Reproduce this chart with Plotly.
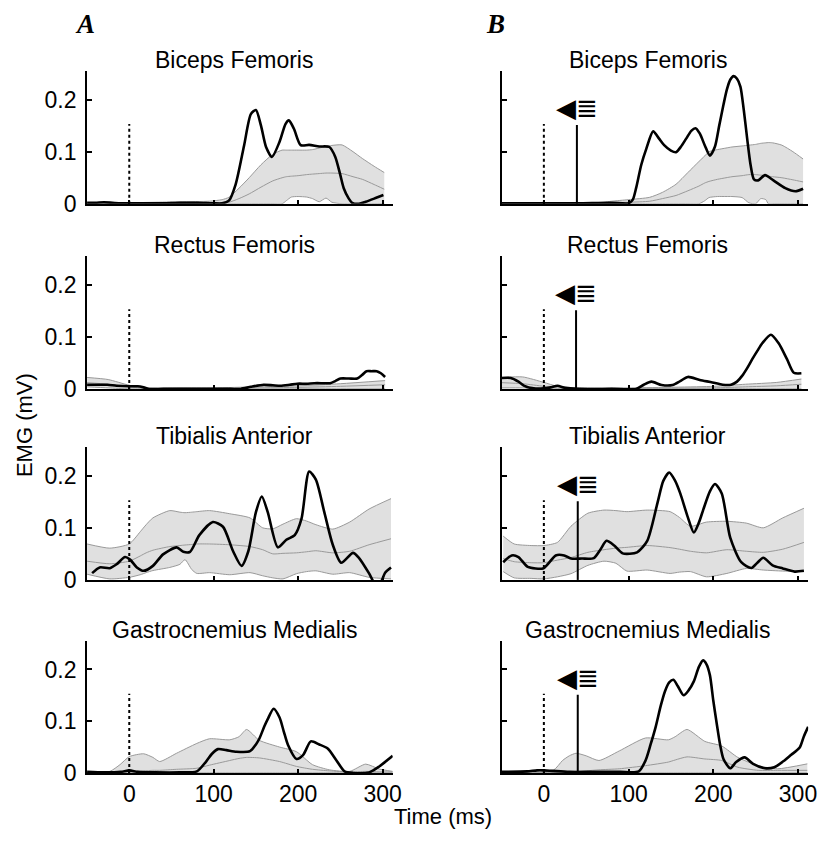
import plotly.graph_objects as go

# ---------------- DATA ----------------
muscles = ["Biceps Femoris", "Rectus Femoris", "Tibialis Anterior", "Gastrocnemius Medialis"]
x_ticks = [0, 100, 200, 300]
y_ticks = [0, 0.1, 0.2]
y_tick_text = ["0", "0.1", "0.2"]
stim_time = 0
stim_height = 0.153
response_times = [39, 38, 40, 40]   # column B solid marker times (ms)
response_height = 0.151
arrow_height = 0.184

# Column A, Biceps Femoris
A_BF_t = [-50, -40, -30, -20, -10, 0, 20, 40, 60, 80, 100, 110, 118, 126, 136, 144, 150, 156, 162, 169, 178, 185, 189, 195, 203, 213, 225, 237, 244, 250, 254, 260, 264, 272, 280, 290, 301]
A_BF_emg = [0.002, 0.002, 0.003, 0.002, 0.001, 0.001, 0.001, 0.001, 0.002, 0.002, 0.001, 0.001, 0.006, 0.0375, 0.112, 0.172, 0.18, 0.15, 0.109, 0.09, 0.119, 0.153, 0.16, 0.144, 0.1125, 0.113, 0.11, 0.109, 0.09, 0.055, 0.03, 0.01, 0.002, 0.0, 0.004, 0.01, 0.017]
A_BF_band_t = [-50, 0, 60, 95, 110, 118, 130, 142, 156, 170, 181, 186, 192, 200, 210, 217, 225, 233, 240, 252, 265, 276, 290, 302]
A_BF_upper = [0.001, 0.002, 0.004, 0.005, 0.008, 0.0125, 0.03, 0.05, 0.075, 0.095, 0.103, 0.103, 0.103, 0.103, 0.103, 0.104, 0.107, 0.11, 0.112, 0.113, 0.1, 0.087, 0.072, 0.06]
A_BF_mean = [0.0, 0.001, 0.001, 0.002, 0.002, 0.003, 0.01, 0.019, 0.032, 0.044, 0.05, 0.052, 0.053, 0.054, 0.056, 0.057, 0.058, 0.059, 0.059, 0.058, 0.052, 0.047, 0.037, 0.028]
A_BF_lower = [0, 0, 0, 0, 0, 0, 0, 0, 0, 0, 0, 0.006, 0.013, 0.014, 0.013, 0.01, 0.004, 0.011, 0.003, 0, 0, 0, 0, 0]

# Column B, Biceps Femoris
B_BF_t = [-50, 0, 40, 80, 100, 105, 109, 115, 121, 129, 136, 142, 150, 156, 162, 168, 174, 179, 184, 190, 196, 202, 207, 212, 216, 220, 224, 228, 232, 236, 240, 244, 248, 253, 261, 271, 285, 297, 306]
B_BF_emg = [0.001, 0.001, 0.001, 0.002, 0.001, 0.008, 0.031, 0.075, 0.106, 0.139, 0.125, 0.1125, 0.102, 0.099, 0.11, 0.125, 0.14, 0.145, 0.135, 0.112, 0.0925, 0.11, 0.15, 0.19, 0.219, 0.238, 0.245, 0.24, 0.225, 0.18, 0.125, 0.075, 0.047, 0.045, 0.055, 0.045, 0.03, 0.024, 0.029]
B_BF_band_t = [-50, 0, 40, 70, 80, 100, 125, 140, 156, 170, 183, 190, 195, 205, 215, 222, 234, 242, 250, 256, 262, 265, 270, 281, 294, 306]
B_BF_upper = [0.001, 0.002, 0.002, 0.003, 0.005, 0.008, 0.0125, 0.022, 0.0375, 0.06, 0.081, 0.092, 0.1, 0.104, 0.107, 0.109, 0.111, 0.1125, 0.114, 0.116, 0.117, 0.1175, 0.117, 0.1125, 0.1, 0.086]
B_BF_mean = [0, 0.001, 0.001, 0.002, 0.002, 0.003, 0.005, 0.01, 0.016, 0.025, 0.034, 0.04, 0.043, 0.047, 0.05, 0.052, 0.054, 0.056, 0.056, 0.055, 0.054, 0.053, 0.052, 0.05, 0.046, 0.042]
B_BF_lower = [0, 0, 0, 0, 0, 0, 0, 0, 0, 0, 0, 0.006, 0.012, 0.014, 0.014, 0.014, 0.012, 0.002, 0, 0.01, 0.008, 0, 0, 0, 0, 0]

# Column A, Rectus Femoris
A_RF_t = [-50, -40, -26, -15, 0, 10, 17, 24, 40, 80, 120, 132, 144, 159, 170, 179, 190, 199, 210, 219, 230, 238, 244, 250, 260, 270, 276, 281, 287, 293, 298, 303]
A_RF_emg = [0.008, 0.008, 0.008, 0.006, 0.005, 0.005, 0.003, 0.0, 0.0, 0.0, 0.0, 0.0, 0.004, 0.008, 0.007, 0.006, 0.008, 0.01, 0.01, 0.011, 0.011, 0.011, 0.015, 0.02, 0.02, 0.02, 0.027, 0.034, 0.034, 0.034, 0.03, 0.023]
A_RF_band_t = [-50, -25, 0, 20, 60, 100, 150, 200, 250, 303]
A_RF_upper = [0.022, 0.018, 0.007, 0.002, 0.002, 0.002, 0.004, 0.006, 0.01, 0.016]
A_RF_mean = [0.012, 0.009, 0.004, 0.001, 0.001, 0.001, 0.002, 0.003, 0.005, 0.008]
A_RF_lower = [0.004, 0.002, 0, 0, 0, 0, 0, 0, 0, 0]

# Column B, Rectus Femoris
B_RF_t = [-50, -39, -30, -23, -12, 0, 8, 16, 25, 40, 80, 109, 118, 127, 139, 152, 161, 170, 184, 199, 211, 221, 228, 234, 240, 246, 252, 258, 268, 277, 287, 295, 304]
B_RF_emg = [0.021, 0.021, 0.014, 0.006, 0.001, 0.001, 0.003, 0.006, 0.002, 0.0, 0.0, 0.0, 0.008, 0.014, 0.0075, 0.0075, 0.015, 0.023, 0.017, 0.0125, 0.008, 0.008, 0.014, 0.025, 0.04, 0.057, 0.073, 0.088, 0.104, 0.088, 0.057, 0.031, 0.030]
B_RF_band_t = [-50, -25, 0, 16, 40, 100, 200, 238, 275, 304]
B_RF_upper = [0.022, 0.023, 0.0125, 0.005, 0.002, 0.002, 0.005, 0.009, 0.0125, 0.019]
B_RF_mean = [0.012, 0.01, 0.005, 0.002, 0.001, 0.001, 0.002, 0.004, 0.006, 0.009]
B_RF_lower = [0.002, 0.002, 0, 0, 0, 0, 0, 0, 0, 0]

# Column A, Tibialis Anterior
A_TA_t = [-44, -35, -23, -15, -5, 1, 9, 17, 28, 40, 56, 64, 72, 83, 99, 111, 123, 133, 141, 150, 157, 164, 176, 186, 196, 204, 213, 221, 231, 241, 251, 265, 272, 284, 290, 295, 299, 303, 310]
A_TA_emg = [0.013, 0.024, 0.0225, 0.03, 0.044, 0.039, 0.024, 0.0175, 0.027, 0.049, 0.0625, 0.054, 0.054, 0.086, 0.111, 0.102, 0.055, 0.027, 0.055, 0.13, 0.16, 0.13, 0.0625, 0.077, 0.086, 0.1175, 0.208, 0.1925, 0.13, 0.0675, 0.033, 0.052, 0.0425, 0.0125, -0.005, -0.008, -0.001, 0.014, 0.024]
A_TA_band_t = [-50, -23, 0, 13, 20, 28, 48, 60, 66, 74, 80, 95, 119, 143, 158, 170, 182, 198, 210, 221, 241, 261, 284, 310]
A_TA_upper = [0.069, 0.061, 0.069, 0.0925, 0.106, 0.119, 0.133, 0.13, 0.129, 0.13, 0.131, 0.133, 0.127, 0.119, 0.1, 0.098, 0.107, 0.1175, 0.113, 0.106, 0.0975, 0.111, 0.136, 0.156]
A_TA_mean = [0.036, 0.031, 0.036, 0.046, 0.052, 0.057, 0.064, 0.066, 0.067, 0.068, 0.069, 0.069, 0.0675, 0.064, 0.058, 0.05, 0.051, 0.052, 0.054, 0.056, 0.052, 0.055, 0.0675, 0.079]
A_TA_lower = [0.011, 0.002, 0.005, 0.01, 0.014, 0.018, 0.024, 0.03, 0.039, 0.02, 0.0125, 0.014, 0.01, 0.014, 0.008, 0.004, 0.002, 0.012, 0.016, 0.0175, 0.011, 0.014, 0.005, 0.002]

# Column B, Tibialis Anterior
B_TA_t = [-48, -38, -30, -19, -1, 5, 14, 24, 32, 45, 59, 67, 74, 83, 93, 110, 122, 134, 141, 148, 155, 161, 170, 177, 183, 188, 196, 202, 210, 220, 233, 245, 252, 259, 270, 282, 296, 307]
B_TA_emg = [0.034, 0.047, 0.044, 0.025, 0.022, 0.031, 0.047, 0.047, 0.041, 0.041, 0.042, 0.059, 0.075, 0.066, 0.051, 0.053, 0.075, 0.147, 0.19, 0.206, 0.19, 0.166, 0.12, 0.091, 0.11, 0.134, 0.17, 0.184, 0.166, 0.081, 0.034, 0.023, 0.033, 0.0425, 0.028, 0.022, 0.016, 0.0175]
B_TA_band_t = [-48, -35, -15, 0, 16, 32, 52, 71, 85, 98, 122, 149, 160, 173, 192, 216, 239, 259, 282, 307]
B_TA_upper = [0.084, 0.069, 0.066, 0.066, 0.072, 0.103, 0.128, 0.134, 0.133, 0.131, 0.134, 0.131, 0.12, 0.103, 0.111, 0.1125, 0.109, 0.1, 0.119, 0.1375]
B_TA_mean = [0.041, 0.035, 0.033, 0.033, 0.038, 0.043, 0.053, 0.058, 0.061, 0.0625, 0.066, 0.062, 0.059, 0.055, 0.052, 0.058, 0.055, 0.053, 0.059, 0.072]
B_TA_lower = [0.016, 0.004, 0.003, 0.002, 0.006, 0.012, 0.028, 0.036, 0.032, 0.017, 0.019, 0.0125, 0.015, 0.016, 0.006, 0.0125, 0.022, 0.019, 0.017, 0.016]

# Column A, Gastrocnemius Medialis
A_GM_t = [-50, -30, -10, 0, 10, 30, 60, 80, 91, 98, 105, 115, 127, 143, 150, 154, 160, 164, 171, 178, 183, 188, 198, 206, 215, 225, 235, 245, 255, 265, 284, 296, 312]
A_GM_emg = [0.002, 0.001, 0.002, 0.005, 0.002, 0.001, 0.001, 0.003, 0.022, 0.037, 0.046, 0.044, 0.041, 0.042, 0.055, 0.066, 0.09, 0.104, 0.124, 0.107, 0.08, 0.054, 0.027, 0.035, 0.061, 0.055, 0.047, 0.025, 0.003, 0.0, 0.001, 0.0125, 0.033]
A_GM_band_t = [-50, -23, -11, 0, 17, 28, 36, 56, 80, 95, 119, 130, 139, 154, 178, 198, 217, 237, 261, 280, 296, 312]
A_GM_upper = [0.0, 0.003, 0.016, 0.0315, 0.037, 0.03, 0.022, 0.038, 0.057, 0.066, 0.064, 0.07, 0.084, 0.063, 0.05, 0.041, 0.016, 0.006, 0.003, 0.017, 0.0075, 0.003]
A_GM_mean = [0, 0.001, 0.002, 0.003, 0.004, 0.005, 0.005, 0.007, 0.009, 0.015, 0.024, 0.028, 0.03, 0.029, 0.022, 0.0126, 0.007, 0.004, 0.002, 0.003, 0.002, 0.002]
A_GM_lower = [0] * 22

# Column B, Gastrocnemius Medialis
B_GM_t = [-50, -20, -8, 0, 10, 30, 60, 90, 112, 120, 126, 132, 138, 143, 148, 153, 158, 165, 171, 177, 183, 188, 192, 196, 200, 204, 208, 212, 220, 227, 237, 247, 261, 272, 284, 292, 302, 307, 312]
B_GM_emg = [0.002, 0.003, 0.005, 0.005, 0.004, 0.002, 0.002, 0.002, 0.003, 0.024, 0.055, 0.089, 0.13, 0.158, 0.175, 0.18, 0.168, 0.15, 0.16, 0.177, 0.205, 0.2175, 0.21, 0.189, 0.14, 0.096, 0.055, 0.027, 0.009, 0.021, 0.03, 0.0175, 0.009, 0.011, 0.024, 0.035, 0.049, 0.071, 0.089]
B_GM_band_t = [-50, 11, 22, 30, 38, 50, 65, 89, 120, 147, 155, 169, 190, 210, 229, 253, 276, 311]
B_GM_upper = [0.002, 0.005, 0.024, 0.033, 0.038, 0.033, 0.024, 0.0425, 0.0675, 0.064, 0.07, 0.084, 0.061, 0.052, 0.03, 0.014, 0.008, 0.0175]
B_GM_mean = [0, 0.001, 0.002, 0.002, 0.003, 0.004, 0.006, 0.008, 0.014, 0.021, 0.025, 0.031, 0.027, 0.024, 0.011, 0.005, 0.005, 0.005]
B_GM_lower = [0] * 18

panels = [
    [(A_BF_t, A_BF_emg, A_BF_band_t, A_BF_upper, A_BF_mean, A_BF_lower),
     (B_BF_t, B_BF_emg, B_BF_band_t, B_BF_upper, B_BF_mean, B_BF_lower)],
    [(A_RF_t, A_RF_emg, A_RF_band_t, A_RF_upper, A_RF_mean, A_RF_lower),
     (B_RF_t, B_RF_emg, B_RF_band_t, B_RF_upper, B_RF_mean, B_RF_lower)],
    [(A_TA_t, A_TA_emg, A_TA_band_t, A_TA_upper, A_TA_mean, A_TA_lower),
     (B_TA_t, B_TA_emg, B_TA_band_t, B_TA_upper, B_TA_mean, B_TA_lower)],
    [(A_GM_t, A_GM_emg, A_GM_band_t, A_GM_upper, A_GM_mean, A_GM_lower),
     (B_GM_t, B_GM_emg, B_GM_band_t, B_GM_upper, B_GM_mean, B_GM_lower)],
]

# ---------------- LAYOUT ----------------
W, H = 832, 845
col_px = [(88, 397), (507, 817)]
row_px = [(72, 207), (260, 395), (454, 589), (651, 785)]
title_x_px = [237, 655]
FONT = "Liberation Sans, Arial, sans-serif"
SERIF = "Liberation Serif, Times New Roman, serif"

fig = go.Figure()
layout = dict(width=W, height=H, margin=dict(l=0, r=0, t=0, b=0),
              paper_bgcolor="white", plot_bgcolor="white", showlegend=False,
              font=dict(family=FONT, size=22, color="black"))
annotations = []

BAND_FILL = "#e0e0e0"
BAND_LINE = "#999999"

for r in range(4):
    for c in range(2):
        idx = r * 2 + c + 1
        xa = "x" if idx == 1 else f"x{idx}"
        ya = "y" if idx == 1 else f"y{idx}"
        t, emg, bt, up, mn, lo = panels[r][c]
        common = dict(xaxis=xa, yaxis=ya, hoverinfo="skip")
        fig.add_trace(go.Scatter(x=bt, y=lo, mode="lines", line=dict(color=BAND_LINE, width=1, shape="spline", smoothing=0.6), **common))
        fig.add_trace(go.Scatter(x=bt, y=up, mode="lines", fill="tonexty", fillcolor=BAND_FILL,
                                 line=dict(color=BAND_LINE, width=1, shape="spline", smoothing=0.6), **common))
        fig.add_trace(go.Scatter(x=bt, y=mn, mode="lines", line=dict(color=BAND_LINE, width=1, shape="spline", smoothing=0.6), **common))
        fig.add_trace(go.Scatter(x=[stim_time, stim_time], y=[0, stim_height], mode="lines",
                                 line=dict(color="black", width=2, dash="dot"), **common))
        if c == 1:
            rt = response_times[r]
            fig.add_trace(go.Scatter(x=[rt, rt], y=[0, response_height], mode="lines",
                                     line=dict(color="black", width=2), **common))
            annotations.append(dict(x=rt, y=arrow_height, xref=xa, yref=ya, text="◀≣",
                                    showarrow=False, font=dict(family="DejaVu Sans", size=26, color="black"),
                                    xanchor="center", yanchor="middle"))
        fig.add_trace(go.Scatter(x=t, y=emg, mode="lines",
                                 line=dict(color="black", width=2.6, shape="spline", smoothing=0.7), **common))

        xl, xr = col_px[c]
        yt, yb = row_px[r]
        layout["xaxis" if idx == 1 else f"xaxis{idx}"] = dict(
            domain=[xl / W, xr / W], anchor=ya, range=[-50, 312], showgrid=False, zeroline=False,
            showline=True, linecolor="black", linewidth=1.5,
            ticks="inside", ticklen=4, tickwidth=1.5, tickcolor="black",
            tickvals=x_ticks, showticklabels=(r == 3),
            tickfont=dict(size=23, family=FONT))
        layout["yaxis" if idx == 1 else f"yaxis{idx}"] = dict(
            domain=[1 - yb / H, 1 - yt / H], anchor=xa, range=[0, 0.255], showgrid=False, zeroline=False,
            showline=True, linecolor="black", linewidth=2,
            ticks="inside", ticklen=5, tickwidth=1.5, tickcolor="black",
            tickvals=y_ticks, ticktext=y_tick_text, showticklabels=(c == 0),
            ticklabelstandoff=4, tickfont=dict(size=23, family=FONT))
        annotations.append(dict(x=title_x_px[c] / W, y=1 - (yt - 11) / H, xref="paper", yref="paper",
                                text=muscles[r], showarrow=False, font=dict(size=23, family=FONT),
                                xanchor="center", yanchor="middle"))

annotations.append(dict(x=86 / W, y=1 - 24 / H, xref="paper", yref="paper", text="<b><i>A</i></b>",
                        showarrow=False, font=dict(family=SERIF, size=27),
                        xanchor="center", yanchor="middle"))
annotations.append(dict(x=501 / W, y=1 - 24 / H, xref="paper", yref="paper", text="<b><i>B</i></b>",
                        showarrow=False, font=dict(family=SERIF, size=27),
                        xanchor="center", yanchor="middle"))
annotations.append(dict(x=25 / W, y=1 - 432 / H, xref="paper", yref="paper", text="EMG (mV)",
                        showarrow=False, textangle=-90, font=dict(size=22, family=FONT),
                        xanchor="center", yanchor="middle"))
annotations.append(dict(x=448 / W, y=1 - 829 / H, xref="paper", yref="paper", text="Time (ms)",
                        showarrow=False, font=dict(size=22, family=FONT),
                        xanchor="center", yanchor="middle"))

layout["annotations"] = annotations
fig.update_layout(**layout)
fig.write_html("out.html")
